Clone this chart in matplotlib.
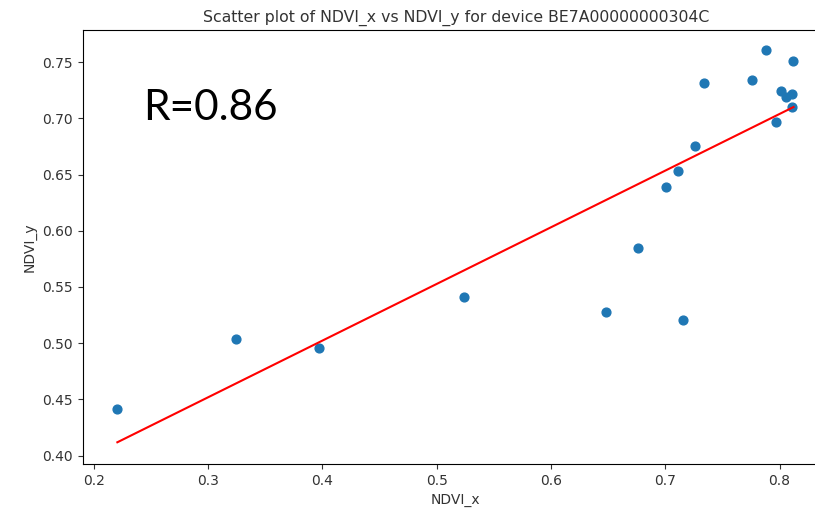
import numpy as np
import matplotlib
matplotlib.use('Agg')
import matplotlib.pyplot as plt

# NDVI readings for the device
ndvi_x = [0.2205, 0.324, 0.3966, 0.524, 0.6477, 0.6757, 0.7153, 0.7002, 0.7107,
          0.7258, 0.734, 0.776, 0.7877, 0.7973, 0.8017, 0.806, 0.811, 0.8113, 0.8122]
ndvi_y = [0.4413, 0.504, 0.4957, 0.5409, 0.5276, 0.5843, 0.5208, 0.6392, 0.653,
          0.6756, 0.7314, 0.7337, 0.7606, 0.6968, 0.7243, 0.719, 0.7098, 0.7219, 0.7512]

# regression line fitted to the data
slope = 0.504
intercept = 0.3007
r_label = 'R=0.86'

fig = plt.figure(figsize=(8.15, 5.09), dpi=100)
ax = fig.add_axes([0.1018, 0.0884, 0.915, 0.8527])

ax.scatter(ndvi_x, ndvi_y, s=40, color='#1f77b4')
xs = np.array([min(ndvi_x), max(ndvi_x)])
ax.plot(xs, slope * xs + intercept, color='red', linewidth=1.5)

ax.set_xlim(0.1904, 0.843)
ax.set_ylim(0.3925, 0.7786)
ax.set_xticks([0.2, 0.3, 0.4, 0.5, 0.6, 0.7, 0.8])
ax.set_yticks([0.40, 0.45, 0.50, 0.55, 0.60, 0.65, 0.70, 0.75])
ax.set_yticklabels(['0.40', '0.45', '0.50', '0.55', '0.60', '0.65', '0.70', '0.75'])
ax.tick_params(labelsize=10, colors='#333333')
ax.set_xlabel('NDVI_x', fontsize=10, color='#333333')
ax.set_ylabel('NDVI_y', fontsize=10, color='#333333')
ax.set_title('Scatter plot of NDVI_x vs NDVI_y for device BE7A00000000304C', fontsize=11.3, color='#333333')

fig.text(0.1755, 0.764, r_label, fontsize=30.5, family='Lato', va='baseline', ha='left')

fig.savefig('out.png', dpi=100)
